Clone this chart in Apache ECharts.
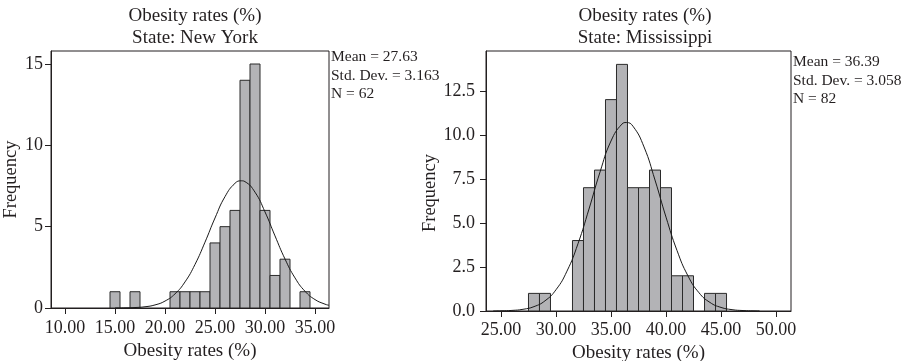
<!DOCTYPE html>
<html>
<head>
<meta charset="utf-8">
<script src="https://cdn.jsdelivr.net/npm/echarts@6/dist/echarts.min.js"></script>
<style>
  html, body { margin: 0; padding: 0; background: #fff; }
  #main { width: 909px; height: 361px; }
</style>
</head>
<body>
<div id="main"></div>
<script>
var myChart = echarts.init(document.getElementById("main"));

// New York histogram (bin centres, counts)
var nyBins = [15, 17, 21, 22, 23, 24, 25, 26, 27, 28, 29, 30, 31, 32, 34];
var nyCounts = [1, 1, 1, 1, 1, 1, 4, 5, 6, 14, 15, 6, 2, 3, 1];
// fitted normal curve
var nyCurveX = [15, 16, 17, 18, 19, 20, 21, 22, 23, 24, 25, 26, 27, 27.63, 28, 29, 30, 31, 32, 33, 34, 35, 36, 36.4];
var nyCurveY = [0.003, 0.009, 0.028, 0.076, 0.189, 0.426, 0.87, 1.604, 2.679, 4.047, 5.534, 6.848, 7.667, 7.82, 7.767, 7.12, 5.906, 4.433, 3.012, 1.851, 1.029, 0.518, 0.236, 0.167];

// Mississippi histogram
var msBins = [28, 29, 32, 33, 34, 35, 36, 37, 38, 39, 40, 41, 42, 44, 45];
var msCounts = [1, 1, 4, 7, 8, 12, 14, 7, 7, 8, 7, 2, 2, 1, 1];
var msCurveX = [24.3, 25, 26, 27, 28, 29, 30, 31, 32, 33, 34, 35, 36, 36.39, 37, 38, 39, 40, 41, 42, 43, 44, 45, 46, 47, 48, 48.5];
var msCurveY = [0.004, 0.01, 0.033, 0.096, 0.248, 0.577, 1.206, 2.263, 3.818, 5.788, 7.884, 9.65, 10.613, 10.7, 10.489, 9.315, 7.434, 5.331, 3.435, 1.989, 1.035, 0.484, 0.203, 0.077, 0.026, 0.008, 0.004];

var nyXTicks = [10, 15, 20, 25, 30, 35];
var nyYTicks = [0, 5, 10, 15];
var msXTicks = [25, 30, 35, 40, 45, 50];
var msYTicks = [0, 2.5, 5, 7.5, 10, 12.5];

var nyStats = ['Mean = 27.63', 'Std. Dev. = 3.163', 'N = 62'];
var msStats = ['Mean = 36.39', 'Std. Dev. = 3.058', 'N = 82'];

var binWidth = 1;
var font = "'Liberation Serif', 'Times New Roman', serif";
var ink = '#231f20';

function pairs(xs, ys) {
    return xs.map(function (x, i) { return [x, ys[i]]; });
}

function histItem(params, api) {
    var x = api.value(0), y = api.value(1);
    var p0 = api.coord([x - binWidth / 2, y]);
    var p1 = api.coord([x + binWidth / 2, 0]);
    return {
        type: 'rect',
        shape: { x: p0[0], y: p0[1], width: p1[0] - p0[0], height: p1[1] - p0[1] },
        style: { fill: '#b3b3b6', stroke: '#2a2a2a', lineWidth: 1 }
    };
}

function xAxisOf(idx, min, max, ticks, margin, gap) {
    return {
        gridIndex: idx, type: 'value', min: min, max: max,
        name: 'Obesity rates (%)', nameLocation: 'middle', nameGap: gap,
        nameTextStyle: { fontFamily: font, fontSize: 19, color: ink },
        axisLine: { lineStyle: { color: ink, width: 1 } },
        axisTick: { length: 6, customValues: ticks, lineStyle: { color: ink } },
        axisLabel: {
            customValues: ticks, margin: margin, fontFamily: font, fontSize: 18, color: ink,
            formatter: function (v) { return v.toFixed(2); }
        },
        splitLine: { show: false }
    };
}

function yAxisOf(idx, max, ticks, digits, margin, gap, pad) {
    return {
        gridIndex: idx, type: 'value', min: 0, max: max,
        name: 'Frequency', nameLocation: 'middle', nameGap: gap,
        nameTextStyle: { fontFamily: font, fontSize: 18.5, color: ink, padding: pad },
        axisLine: { show: true, lineStyle: { color: ink, width: 1 } },
        axisTick: { show: true, length: 6, customValues: ticks, lineStyle: { color: ink } },
        axisLabel: {
            customValues: ticks, margin: margin, fontFamily: font, fontSize: 18, color: ink,
            formatter: function (v) { return v.toFixed(digits); }
        },
        splitLine: { show: false }
    };
}

function statsText(x, y, lines) {
    return {
        type: 'text', left: x, top: y,
        style: { text: lines.join('\n'), fontFamily: font, fontSize: 15.5, lineHeight: 18.5, fill: ink }
    };
}

var option = {
    backgroundColor: '#fff',
    animation: false,
    title: [{
        text: 'Obesity rates (%)\nState: New York',
        left: 190, top: 0, textAlign: 'center',
        textStyle: { fontFamily: font, fontSize: 19, fontWeight: 'normal', color: ink, lineHeight: 22 }
    }, {
        text: 'Obesity rates (%)\nState: Mississippi',
        left: 640, top: 0, textAlign: 'center',
        textStyle: { fontFamily: font, fontSize: 19, fontWeight: 'normal', color: ink, lineHeight: 22 }
    }],
    grid: [
        { left: 51, top: 51, width: 278, height: 257, show: true, borderColor: ink, borderWidth: 1,
          outerBoundsMode: 'none', containLabel: false },
        { left: 486, top: 51, width: 305, height: 260, show: true, borderColor: ink, borderWidth: 1,
          outerBoundsMode: 'none', containLabel: false }
    ],
    xAxis: [
        xAxisOf(0, 8.6, 36.4, nyXTicks, 11, 32),
        xAxisOf(1, 23.64, 51.36, msXTicks, 10, 32)
    ],
    yAxis: [
        yAxisOf(0, 15.8, nyYTicks, 0, 8, 30, 0),
        yAxisOf(1, 14.76, msYTicks, 1, 11, 44, [0, 24, 0, 0])
    ],
    graphic: [
        statsText(331, 48, nyStats),
        statsText(793, 53, msStats)
    ],
    series: [
        { type: 'custom', xAxisIndex: 0, yAxisIndex: 0, renderItem: histItem, clip: true,
          data: pairs(nyBins, nyCounts) },
        { type: 'line', xAxisIndex: 0, yAxisIndex: 0, smooth: true, symbol: 'none', clip: true, z: 5,
          lineStyle: { color: '#1a1a1a', width: 1 }, data: pairs(nyCurveX, nyCurveY) },
        { type: 'custom', xAxisIndex: 1, yAxisIndex: 1, renderItem: histItem, clip: true,
          data: pairs(msBins, msCounts) },
        { type: 'line', xAxisIndex: 1, yAxisIndex: 1, smooth: true, symbol: 'none', clip: true, z: 5,
          lineStyle: { color: '#1a1a1a', width: 1 }, data: pairs(msCurveX, msCurveY) }
    ]
};

myChart.setOption(option);
</script>
</body>
</html>
